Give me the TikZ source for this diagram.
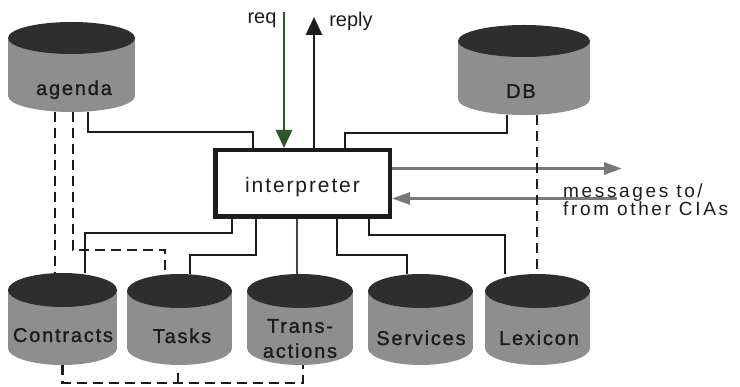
\documentclass[tikz,border=0pt]{standalone}
\usepackage{fontspec}
\setmainfont{Liberation Sans}
\newfontfamily\spacedfont[LetterSpace=9]{Liberation Sans}
\newfontfamily\msgfont[LetterSpace=14]{Liberation Sans}
\newfontfamily\cylfont[LetterSpace=9, FakeBold=1.2]{Liberation Sans}
\usetikzlibrary{arrows.meta,calc}

\definecolor{ink}{HTML}{1C1C1C}
\definecolor{cylside}{HTML}{8E8E8E}
\definecolor{cyltop}{HTML}{2E2E2E}
\definecolor{msggray}{HTML}{787878}
\definecolor{greenink}{HTML}{2A5A2C}

% database cylinder: name, centre x, top y, bottom y, x radius, y radius
\newcommand{\dbcyl}[6]{%
  \fill[cylside] (#2-#5,#3+#6) rectangle (#2+#5,#4-#6);
  \fill[cylside] (#2,#4-#6) ellipse [x radius=#5pt, y radius=#6pt];
  \fill[cyltop] (#2,#3+#6) ellipse [x radius=#5pt, y radius=#6pt];
  \node[cylbox, minimum width={2*#5pt}, minimum height={(#4-#3)*1pt}] (#1) at (#2,{(#3+#4)/2}) {};
}

\begin{document}
\begin{tikzpicture}[x=1pt, y=-1pt,
  cylbox/.style={rectangle, inner sep=0pt, outer sep=0pt, draw=none},
  cyllabel/.style={font=\cylfont\fontsize{20}{25}\selectfont, text=ink, anchor=base, inner sep=0pt},
  plainlbl/.style={font=\fontsize{20}{24}\selectfont, text=ink, anchor=base, inner sep=0pt},
  link/.style={draw=ink, line width=2.8pt},
  dashlink/.style={draw=ink, line width=2.6pt, dash pattern=on 10pt off 6pt},
  msg/.style={draw=msggray, line width=2.8pt, -{Triangle[length=18pt,width=12pt]}},
  flow/.style={line width=2.8pt, -{Triangle[length=18pt,width=16pt]}}]

\fill[white] (0,0) rectangle (740,387);
\useasboundingbox (0,0) rectangle (740,387);

% stores
\dbcyl{agenda}{71.5}{22}{112}{63.5}{16}
\dbcyl{db}{524}{25}{115}{66}{16}
\dbcyl{contracts}{62.5}{273}{365}{54.5}{17}
\dbcyl{tasks}{179.5}{274}{365}{52.5}{17}
\dbcyl{trans}{300}{274}{365}{53}{17}
\dbcyl{services}{420.5}{274}{365}{52.5}{17}
\dbcyl{lexicon}{537.5}{274}{365}{52.5}{17}

\node[cyllabel] (agenda-lbl) at (74,95) {agenda};
\node[cyllabel] (db-lbl) at (521,98) {DB};
\node[cyllabel] (contracts-lbl) at (63,342) {Contracts};
\node[cyllabel] (tasks-lbl) at (182,343) {Tasks};
\node[cyllabel, align=center, anchor=center] (trans-lbl) at (300,338.5) {Trans-\\actions};
\node[cyllabel] (services-lbl) at (421,345) {Services};
\node[cyllabel] (lexicon-lbl) at (539,345) {Lexicon};

% interpreter
\node[draw=ink, line width=4.5pt, fill=white, minimum width=174.5pt, minimum height=66.5pt,
      inner sep=0pt, text height=19pt, text depth=0pt,
      font=\spacedfont\fontsize{21}{25}\selectfont, text=ink] (interp) at (302.5,183.5) {interpreter};

% request / reply
\coordinate (reqin) at (284,12);
\coordinate (replyout) at (314,17);
\draw[flow, draw=greenink] (reqin) -- (reqin |- interp.north);
\draw[flow, draw=ink] (replyout |- interp.north) -- (replyout);
\node[plainlbl] (req-lbl) at (262,24) {req};
\node[plainlbl] (reply-lbl) at (351,27) {reply};

% links above the interpreter
\draw[link] ([xshift=16.5pt]agenda.south) -- ++(0,20) -| ([xshift=-49.5pt]interp.north);
\draw[link] ([xshift=-17pt]db.south) -- ++(0,18) -| ([xshift=42.5pt]interp.north);

% links below the interpreter
\draw[link] ([xshift=-70.5pt]interp.south) -- ++(0,14) -| ([xshift=22.5pt]contracts.north);
\draw[link] ([xshift=-46.5pt]interp.south) -- ++(0,36) -| ([xshift=10.5pt]tasks.north);
\draw[link, draw=greenink] ([xshift=-5.5pt]interp.south) -- ([xshift=-5.5pt]interp.south |- trans.north);
\draw[link] ([xshift=34.5pt]interp.south) -- ++(0,36) -| ([xshift=-13.5pt]services.north);
\draw[link] ([xshift=66.5pt]interp.south) -- ++(0,16) -| ([xshift=-32.5pt]lexicon.north);

% messages to and from other agents
\coordinate (msgout) at (622,168.5);
\coordinate (msgin) at (617,198.5);
\draw[msg] (interp.east |- msgout) -- (msgout);
\draw[msg] (msgin) -- (interp.east |- msgin);
\node[font={\msgfont\fontsize{19}{18}\selectfont\lineskiplimit=-50pt}, align=left,
      anchor=north west, inner sep=0pt, text=ink] (msgtext) at (563,184) {messages to/\\from other CIAs};

% dashed dependencies
\draw[dashlink] ([xshift=-16.5pt]agenda.south) -- ([xshift=-16.5pt]agenda.south |- contracts.north);
\draw[dashlink] ([xshift=1.5pt]agenda.south) -- ++(0,138) -| ([xshift=-14.5pt]tasks.north);
\draw[dashlink] ([xshift=13pt]db.south) -- ([xshift=13pt]db.south |- lexicon.north);
\draw[dashlink] (contracts.south) -- ++(0,18) -| ([xshift=3pt]trans.south);
\draw[link, line width=2.6pt] ([xshift=-1.5pt,yshift=-8pt]tasks.south) -- ++(0,10);
\end{tikzpicture}
\end{document}
